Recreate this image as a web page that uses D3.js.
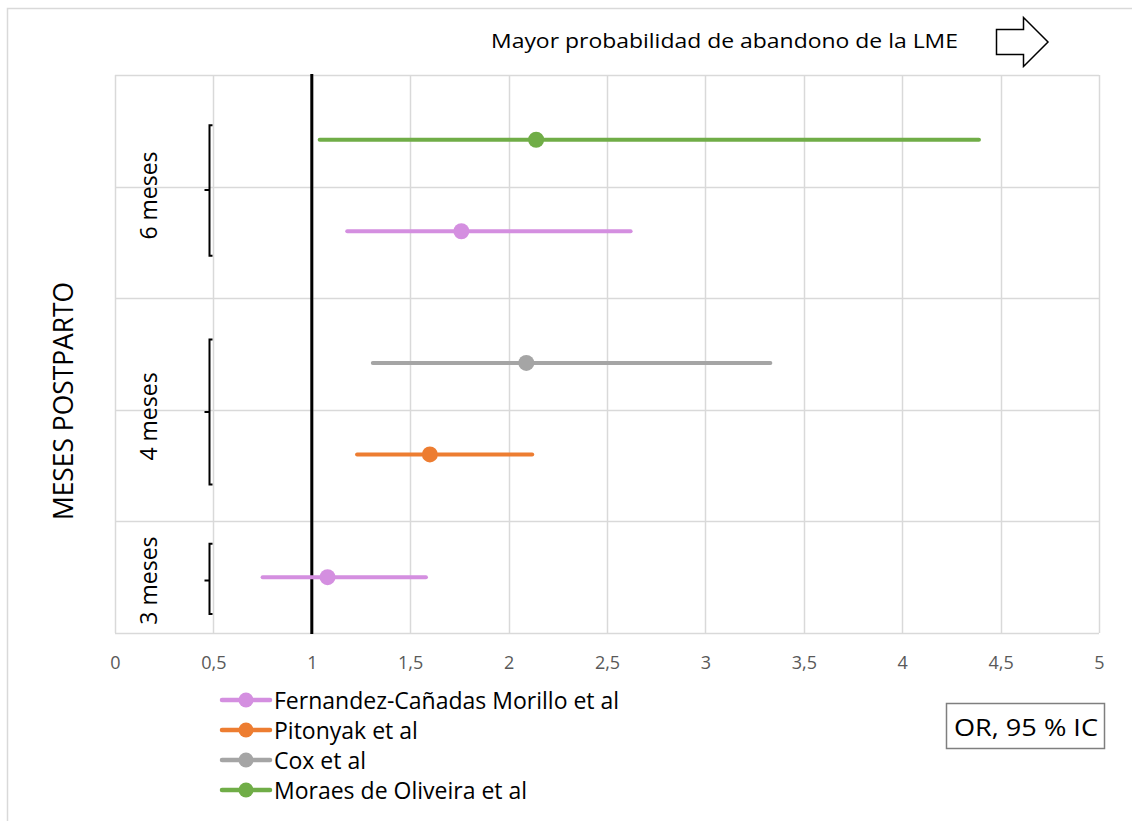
<!DOCTYPE html>
<html>
<head>
<meta charset="utf-8">
<script src="https://cdn.jsdelivr.net/npm/d3@7"></script>
<style>
  body { margin: 0; background: #fff; }
  text { font-family: "Open Sans", "Noto Sans", sans-serif; }
</style>
</head>
<body>
<svg id="chart" width="1132" height="821"></svg>
<script>
// series (legend order)
const seriesNames = ['Fernandez-Cañadas Morillo et al', 'Pitonyak et al', 'Cox et al', 'Moraes de Oliveira et al'];
const seriesColors = ['#d48fe0', '#ed7d31', '#a5a5a5', '#70ad47'];

// one row per estimate: series index, row position, OR, lower and upper CI
const rowSeries = [3, 0, 2, 1, 0];
const rowPos = [4.42, 3.6, 2.42, 1.6, 0.5];
const rowOR = [2.14, 1.76, 2.09, 1.60, 1.08];
const rowLow = [1.04, 1.18, 1.31, 1.23, 0.75];
const rowHigh = [4.39, 2.62, 3.33, 2.12, 1.58];

// month groups (brackets on the left)
const groupLabels = ['6 meses', '4 meses', '3 meses'];
const groupTop = [4.55, 2.63, 0.8];
const groupBottom = [3.38, 1.33, 0.17];
const groupMid = [3.97, 1.98, 0.47];
const groupLabelPos = [3.92, 1.94, 0.47];

const xTicks = [0, 0.5, 1, 1.5, 2, 2.5, 3, 3.5, 4, 4.5, 5];
const yGrid = [0, 1, 2, 3, 4, 5];

const svg = d3.select('#chart');
const margin = { top: 75, right: 33, bottom: 188, left: 115 };
const width = 1132 - margin.left - margin.right;
const height = 821 - margin.top - margin.bottom;

const x = d3.scaleLinear().domain([0, 5]).range([margin.left, margin.left + width]);
const y = d3.scaleLinear().domain([0, 5]).range([margin.top + height, margin.top]);

// outer chart frame (cropped on the right/bottom)
svg.append('rect')
  .attr('x', 7.5).attr('y', 8.5).attr('width', 1140).attr('height', 830)
  .attr('fill', 'none').attr('stroke', '#d9d9d9').attr('stroke-width', 1.5);

// gridlines
svg.append('g').selectAll('line').data(xTicks).join('line')
  .attr('x1', d => Math.round(x(d)) + 0.5).attr('x2', d => Math.round(x(d)) + 0.5)
  .attr('y1', y(5)).attr('y2', y(0))
  .attr('stroke', '#d9d9d9').attr('stroke-width', 1.5);
svg.append('g').selectAll('line').data(yGrid).join('line')
  .attr('x1', x(0)).attr('x2', x(5))
  .attr('y1', d => Math.round(y(d)) + 0.5).attr('y2', d => Math.round(y(d)) + 0.5)
  .attr('stroke', '#d9d9d9').attr('stroke-width', 1.5);

// x axis labels
const xAxis = d3.axisBottom(x).tickValues(xTicks)
  .tickFormat(d => String(d).replace('.', ','))
  .tickSize(0).tickPadding(23);
const xg = svg.append('g').attr('transform', `translate(0, ${y(0)})`).call(xAxis);
xg.select('.domain').remove();
xg.selectAll('text').attr('font-size', 18).attr('fill', '#595959')
  .attr('font-family', '"Open Sans", sans-serif');

// reference line at OR = 1
svg.append('line')
  .attr('x1', x(1)).attr('x2', x(1))
  .attr('y1', y(5) - 1).attr('y2', y(0) + 1)
  .attr('stroke', '#000').attr('stroke-width', 3);

// confidence intervals
const rows = d3.range(rowPos.length);
svg.append('g').selectAll('line').data(rows).join('line')
  .attr('x1', i => x(rowLow[i])).attr('x2', i => x(rowHigh[i]))
  .attr('y1', i => y(rowPos[i])).attr('y2', i => y(rowPos[i]))
  .attr('stroke', i => seriesColors[rowSeries[i]])
  .attr('stroke-width', 4).attr('stroke-linecap', 'round');
svg.append('g').selectAll('circle').data(rows).join('circle')
  .attr('cx', i => x(rowOR[i])).attr('cy', i => y(rowPos[i]))
  .attr('r', 8)
  .attr('fill', i => seriesColors[rowSeries[i]]);

// brackets
const bx = 209.5, hook = 3, tick = 5;
const brackets = svg.append('g');
groupLabels.forEach((lab, i) => {
  const t = y(groupTop[i]), b = y(groupBottom[i]), m = y(groupMid[i]);
  brackets.append('path')
    .attr('d', `M${bx + hook},${t} L${bx},${t} L${bx},${b} L${bx + hook},${b} M${bx},${m} L${bx - tick},${m}`)
    .attr('fill', 'none').attr('stroke', '#000').attr('stroke-width', 2);
  brackets.append('text')
    .attr('transform', `translate(157, ${y(groupLabelPos[i])}) rotate(-90)`)
    .attr('text-anchor', 'middle')
    .attr('font-size', 23).attr('fill', '#000')
    .text(lab);
});

// vertical axis title
svg.append('text')
  .attr('transform', `translate(73, ${401}) rotate(-90)`)
  .attr('text-anchor', 'middle')
  .attr('font-size', 27).attr('fill', '#000')
  .attr('textLength', 238).attr('lengthAdjust', 'spacingAndGlyphs')
  .text('MESES POSTPARTO');

// top annotation + arrow
svg.append('text')
  .attr('x', 491).attr('y', 48)
  .attr('font-size', 20).attr('fill', '#000')
  .attr('textLength', 467).attr('lengthAdjust', 'spacingAndGlyphs')
  .text('Mayor probabilidad de abandono de la LME');
svg.append('path')
  .attr('d', 'M996.5,29.5 L1023.5,29.5 L1023.5,17.5 L1048,42 L1023.5,66.5 L1023.5,54.5 L996.5,54.5 Z')
  .attr('fill', '#fff').attr('stroke', '#000').attr('stroke-width', 1.5);

// legend
const legend = svg.append('g');
seriesNames.forEach((name, i) => {
  const ly = 700 + i * 30;
  legend.append('line')
    .attr('x1', 222).attr('x2', 270).attr('y1', ly).attr('y2', ly)
    .attr('stroke', seriesColors[i]).attr('stroke-width', 4.5).attr('stroke-linecap', 'round');
  legend.append('circle')
    .attr('cx', 246).attr('cy', ly).attr('r', 7.5).attr('fill', seriesColors[i]);
  legend.append('text')
    .attr('x', 274).attr('y', ly + 9)
    .attr('font-size', 23).attr('fill', '#000')
    .text(name);
});

// OR box
svg.append('rect')
  .attr('x', 946.5).attr('y', 703.5).attr('width', 158).attr('height', 45)
  .attr('fill', '#fff').attr('stroke', '#7f7f7f').attr('stroke-width', 1.5);
svg.append('text')
  .attr('x', 1026).attr('y', 736)
  .attr('text-anchor', 'middle')
  .attr('font-size', 23).attr('fill', '#000')
  .attr('textLength', 144).attr('lengthAdjust', 'spacingAndGlyphs')
  .text('OR, 95 % IC');
</script>
</body>
</html>
